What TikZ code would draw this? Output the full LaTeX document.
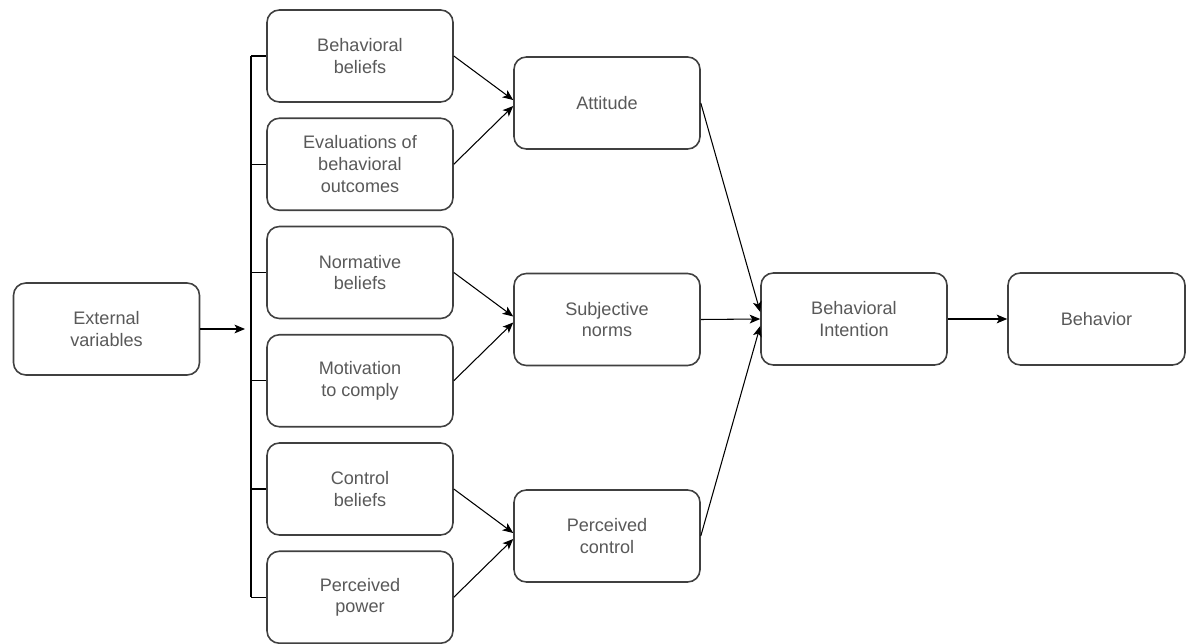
\documentclass[tikz,border=0pt]{standalone}
\usepackage{fontspec}
\setmainfont{Liberation Sans}
\usetikzlibrary{shapes,arrows.meta}

\begin{document}
\begin{tikzpicture}[node distance=2.165cm, every node/.style={align=center, text=black!65, font=\fontsize{10.3}{12.4}\selectfont}]

% Define styles
\tikzstyle{block} = [rectangle, rounded corners=7pt, draw=black!75, line width=0.9pt, fill=white, minimum width=3.72cm, minimum height=1.84cm, inner sep=2pt]
\tikzstyle{arrow} = [line width=0.6pt, -{Stealth[length=6pt, width=5pt, inset=1.5pt]}]
\tikzstyle{link} = [line width=0.6pt]

\useasboundingbox (0,0) rectangle (23.72,-12.88);

% Nodes
\node[block] (ext) at (2.13,-6.58) {External\\variables};

\node[block] (bb) at (7.2,-1.12) {Behavioral\\beliefs};
\node[block, below of=bb] (ev) {Evaluations of\\behavioral\\outcomes};
\node[block, below of=ev] (nb) {Normative\\beliefs};
\node[block, below of=nb] (mc) {Motivation\\to comply};
\node[block, below of=mc] (cb) {Control\\beliefs};
\node[block, below of=cb] (pp) {Perceived\\power};

\node[block] (att) at (12.14,-2.06) {Attitude};
\node[block, below of=att, node distance=4.33cm] (sn) {Subjective\\norms};
\node[block, below of=sn, node distance=4.33cm] (pc) {Perceived\\control};

\node[block] (bi) at (17.08,-6.38) {Behavioral\\Intention};
\node[block, minimum width=3.54cm] (beh) at (21.93,-6.38) {Behavior};

% Bracket
\coordinate (bus) at (5.02,0);
\coordinate (extin) at (4.9,-6.58);
\draw[arrow] (ext) -- (extin);
\draw[link] (bus |- bb.west) -- (bus |- pp.west);
\foreach \n in {bb,ev,nb,mc,cb,pp}
  \draw[link] (bus |- \n.west) -- (\n.west);

% Beliefs to components
\draw[arrow] (bb.east) -- ([yshift=1.7pt]att.west);
\draw[arrow] (ev.east) -- ([yshift=-1.7pt]att.west);
\draw[arrow] (nb.east) -- ([yshift=1.7pt]sn.west);
\draw[arrow] (mc.east) -- ([yshift=-1.7pt]sn.west);
\draw[arrow] (cb.east) -- ([yshift=1.7pt]pc.west);
\draw[arrow] (pp.east) -- ([yshift=-1.7pt]pc.west);

% Components to intention
\draw[arrow] (att.east) -- ([yshift=4pt]bi.west);
\draw[arrow] (sn.east) -- (bi.west);
\draw[arrow] (pc.east) -- ([yshift=-4pt]bi.west);
\draw[arrow] (bi.east) -- (beh.west);

\end{tikzpicture}
\end{document}
